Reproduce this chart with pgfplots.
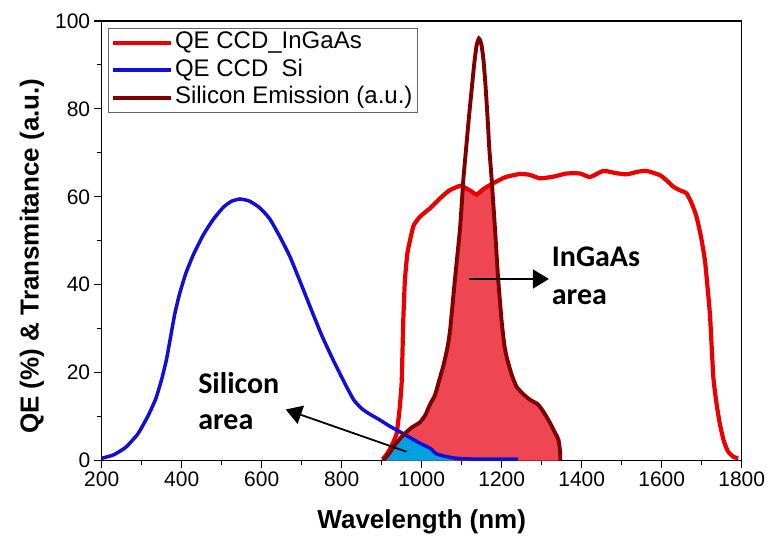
\documentclass[border=0pt]{standalone}
\usepackage{pgfplots}
\pgfplotsset{compat=1.18}
\usetikzlibrary{arrows.meta}
\usepackage{fontspec}
\setmainfont{Liberation Sans}
\newfontfamily\annfont{Carlito}
\definecolor{qered}{RGB}{235,0,0}
\definecolor{qeblue}{RGB}{15,15,215}
\definecolor{emis}{RGB}{128,0,0}
\definecolor{fillred}{RGB}{238,70,82}
\definecolor{fillblue}{RGB}{0,160,225}
\begin{document}
\begin{tikzpicture}
\useasboundingbox (0,0) rectangle (767bp,536bp);
\begin{axis}[
  at={(101.7bp,75.5bp)}, anchor=south west,
  scale only axis, width=640bp, height=439.5bp,
  xmin=200, xmax=1800, ymin=0, ymax=100,
  xtick={200,400,...,1800}, ytick={0,20,...,100},
  minor x tick num=1, minor y tick num=1,
  tick align=outside, tick pos=left,
  major tick length=8bp, minor tick length=4.5bp,
  every tick/.style={black, line width=1.1bp},
  axis line style={line width=1.3bp},
  /pgf/number format/assume math mode=true,
  /pgf/number format/1000 sep={},
  ticklabel style={font=\fontsize{21bp}{25bp}\selectfont},
  xlabel={Wavelength (nm)}, ylabel={QE (\%) \& Transmitance (a.u.)},
  label style={font=\bfseries\fontsize{26bp}{30bp}\selectfont},
  xlabel style={at={(axis description cs:0.5,-0.14)}, anchor=center},
  ylabel style={at={(axis description cs:-0.109,0.465)}, anchor=center},
  legend style={at={(0.0098,0.984)}, anchor=north west, draw=black!60, line width=0.8bp,
    font=\fontsize{24bp}{28bp}\selectfont, inner xsep=3bp, inner ysep=1.5bp, row sep=2bp,
    nodes={inner sep=1.5bp, text height=17.5bp, text depth=5bp}, cells={anchor=west}},
  legend image code/.code={\draw[#1] (0bp,0bp) -- (58bp,0bp);},
  every axis plot/.append style={smooth, tension=0.3},
]
% InGaAs area fill
\addplot[fill=fillred, draw=none, forget plot] coordinates {
(904,0) (920,1.8) (935,3.8) (954,5.8) (975,7.5) (996,8.7) (1010,10.5) (1021,12.8)
(1033,14.8) (1043,18) (1054,21.5) (1064,25.5) (1071,29.7) (1083,41.1) (1096,53)
(1103,62.3) (1110,62) (1125,61.2) (1137.5,60.5) (1150,61.5) (1165,62.5) (1175.5,63)
(1183,53) (1191,41.5) (1200,31.5) (1207,26) (1213,23.3) (1225,19.5) (1237,16.8)
(1255,15) (1271,13.8) (1290,12.8) (1305,11) (1321,8.5) (1335,6) (1342,4.7) (1346,2) (1346.5,0)
} \closedcycle;
% Silicon area fill
\addplot[fill=fillblue, draw=none, forget plot] coordinates {
(904,0) (920,1.8) (935,3.8) (955,5.9) (971,4.9) (996,3.9) (1021,2.8) (1037,1.5) (1071,0.7) (1080,0)
} \closedcycle;
% QE CCD InGaAs
\addplot[qered, line width=4.2bp] coordinates {
(900,0.3) (905,0.5) (920,2.5) (937,6) (945,12) (950,18) (954,32) (958,41) (964,47)
(971,50.2) (980,53.5) (996,55.5) (1021,57.4) (1029,58.1) (1050,60) (1070,61.5)
(1096,62.5) (1110,62) (1125,61.2) (1137.5,60.5) (1155,61.8) (1179,63.1) (1210,64.5)
(1246,65.2) (1270,65) (1296,64.2) (1330,64.6) (1362,65.3) (1396,65.3) (1421,64.5)
(1454,65.9) (1485,65.4) (1512,65.1) (1540,65.7) (1562,65.9) (1596,64.9) (1615,63.5)
(1629,62.3) (1645,61.5) (1662,60.8) (1675,58.5) (1687,55.5) (1698,51) (1708,45.6)
(1715,39) (1721,32.7) (1729,19.1) (1737,13) (1745,8.5) (1755,4.5) (1766,2) (1780,0.8) (1791,0.5)
};
\addlegendentry{QE CCD\_InGaAs}
% QE CCD Si
\addplot[qeblue, line width=3.5bp] coordinates {
(200,0.5) (230,1.3) (260,3) (290,6) (315,10) (335,14) (350,18.5) (362,23) (372,28)
(383,33.5) (395,38) (410,42.5) (430,47) (455,51.5) (480,55) (505,57.7) (525,59)
(546,59.5) (570,59) (595,57.5) (620,55) (645,51) (671,46.3) (697,40.5) (721,35)
(750,28.5) (779,22.8) (808,17.5) (830,13.8) (850,11.8) (871,10.5) (896,9.2) (920,7.8)
(946,6.5) (971,5.2) (996,3.9) (1021,2.8) (1037,1.5) (1071,0.7) (1100,0.4) (1150,0.3) (1241,0.3)
};
\addlegendentry{QE CCD\ \ Si}
% Silicon emission
\addplot[emis, line width=3.9bp] coordinates {
(904,0) (920,1.8) (935,3.8) (954,5.8) (975,7.5) (996,8.7) (1010,10.5) (1021,12.8)
(1033,14.8) (1043,18) (1054,21.5) (1064,25.5) (1071,29.7) (1083,41.1) (1096,53)
(1104,63.8) (1112,72) (1119,79) (1125,84.5) (1131,90) (1137,94.3) (1143,96)
(1149,94.8) (1154,91.5) (1159,86) (1164,79) (1169,71) (1175,63.8) (1183,53)
(1191,41.5) (1200,31.5) (1207,26) (1213,23.3) (1225,19.5) (1237,16.8) (1255,15)
(1271,13.8) (1290,12.8) (1305,11) (1321,8.5) (1335,6) (1342,4.7) (1346,2) (1346.5,0)
};
\addlegendentry{Silicon Emission (a.u.)}
% annotations
\draw[line width=1.8bp, -{Triangle[length=16bp,width=19bp]}] (axis cs:1119,41.3) -- (axis cs:1318,41.3);
\draw[line width=1.8bp, -{Triangle[length=16bp,width=19bp]}] (axis cs:962,2.0) -- (axis cs:660,11.6);
\node[anchor=west, inner sep=0pt, font=\annfont\bfseries\fontsize{30bp}{34bp}\selectfont] at (axis cs:1325,46.4) {InGaAs};
\node[anchor=west, inner sep=0pt, font=\annfont\bfseries\fontsize{30bp}{34bp}\selectfont] at (axis cs:1325,37.1) {area};
\node[anchor=west, inner sep=0pt, font=\annfont\bfseries\fontsize{30bp}{34bp}\selectfont] at (axis cs:441,17.6) {Silicon};
\node[anchor=west, inner sep=0pt, font=\annfont\bfseries\fontsize{30bp}{34bp}\selectfont] at (axis cs:441,8.8) {area};
\end{axis}
\end{tikzpicture}
\end{document}
